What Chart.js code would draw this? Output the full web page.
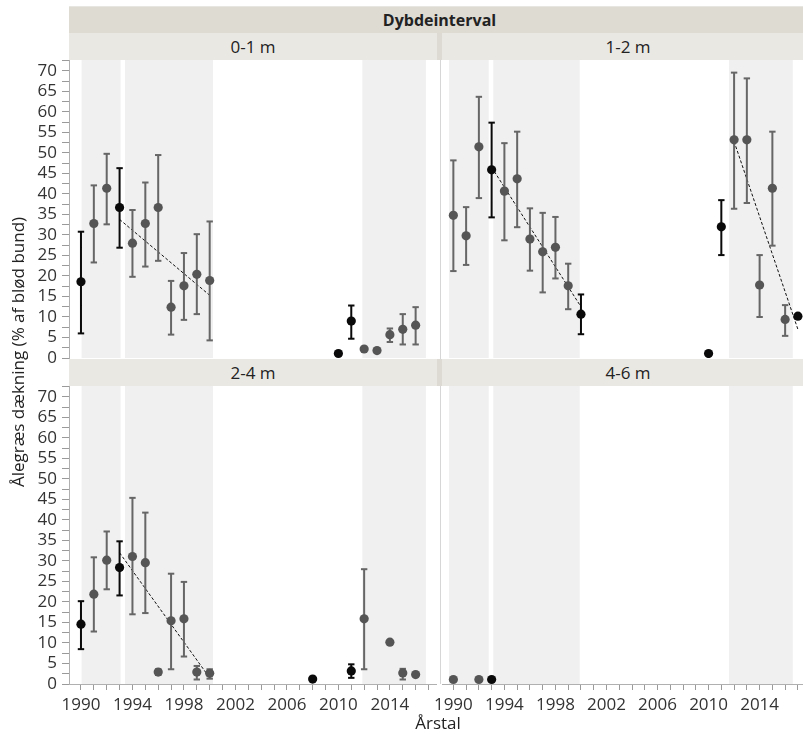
<!DOCTYPE html>
<html><head><meta charset="utf-8">
<script src="https://cdn.jsdelivr.net/npm/chart.js@4.4.1/dist/chart.umd.min.js"></script>
<style>
html,body{margin:0;padding:0;background:#fff;overflow:hidden;width:803px;height:735px;}
#wrap{position:relative;width:803px;height:735px;overflow:hidden;font-family:"Open Sans",sans-serif;color:#222;}
.lbl{position:absolute;display:flex;align-items:center;justify-content:center;box-sizing:border-box;white-space:nowrap;z-index:2;}
.hdr{left:69px;top:6px;width:741px;height:27px;background:#dedbd3;font-weight:bold;font-size:16px;border-top:1px solid #e8e6e0;}
.strip{height:27px;background:#eae8e2;font-size:17px;}
.gap{position:absolute;width:5px;background:#dcdad3;z-index:2;}
canvas{position:absolute;z-index:1;}
.vline{position:absolute;left:440px;top:60px;width:1px;height:624px;background:#d6d6d6;z-index:0;}
</style></head>
<body><div id="wrap">
<div class="vline"></div>
<canvas id="c01" width="437" height="310" style="left:0;top:60px"></canvas>
<canvas id="c12" width="361" height="298" style="left:442px;top:60px"></canvas>
<canvas id="c24" width="437" height="334" style="left:0;top:386px"></canvas>
<canvas id="c46" width="373" height="334" style="left:430px;top:386px"></canvas>
<div class="lbl hdr">Dybdeinterval</div>
<div class="lbl strip" style="left:69px;top:33px;width:368px;">0-1 m</div>
<div class="gap" style="left:437px;top:33px;height:27px;"></div>
<div class="lbl strip" style="left:442px;top:33px;width:372px;">1-2 m</div>
<div class="lbl strip" style="left:69px;top:359px;width:368px;">2-4 m</div>
<div class="gap" style="left:437px;top:359px;height:27px;"></div>
<div class="lbl strip" style="left:442px;top:359px;width:372px;">4-6 m</div>
<div class="lbl" style="left:-183px;top:341px;width:400px;height:22px;font-size:17px;transform:rotate(-90deg);">Ålegræs dækning (% af blød bund)</div>
<div class="lbl" style="left:388px;top:711px;width:100px;height:22px;font-size:17px;">Årstal</div>
</div>
<script>
// ---------- DATA ----------
// 0-1 m
const years_01 = [1990,1991,1992,1993,1994,1995,1996,1997,1998,1999,2000,2010,2011,2012,2013,2014,2015,2016];
const mean_01  = [18.6,32.8,41.4,36.7,28.0,32.8,36.7,12.4,17.6,20.4,18.9,1.1,9.0,2.2,1.8,5.7,7.0,8.0];
const low_01   = [6.0,23.3,32.6,26.9,19.8,22.3,23.7,5.7,9.3,10.7,4.3,null,4.7,null,null,3.9,3.3,3.3];
const high_01  = [30.8,42.1,49.8,46.3,36.1,42.8,49.5,18.8,25.6,30.2,33.3,null,12.8,null,null,7.2,10.7,12.4];
const dark_01  = [1990,1993,2010,2011];
const trendX_01 = [[1993,2000]];
const trendY_01 = [[33.8,15.3]];
// 1-2 m
const years_12 = [1990,1991,1992,1993,1994,1995,1996,1997,1998,1999,2000,2010,2011,2012,2013,2014,2015,2016,2017];
const mean_12  = [34.8,29.8,51.5,45.9,40.7,43.7,29.0,25.9,27.0,17.6,10.7,1.1,32.0,53.2,53.2,17.8,41.4,9.4,10.2];
const low_12   = [21.2,22.7,39.0,34.3,28.7,31.9,21.3,16.0,19.4,11.9,5.8,null,25.1,36.4,37.8,10.0,27.4,5.4,null];
const high_12  = [48.2,36.8,63.7,57.4,52.4,55.2,36.5,35.4,34.4,23.0,15.5,null,38.5,69.6,68.2,25.1,55.2,12.9,null];
const dark_12  = [1993,2000,2010,2011,2017];
const trendX_12 = [[1993,2000],[2012,2017]];
const trendY_12 = [[46.5,12.5],[52.8,7.0]];
// 2-4 m
const years_24 = [1990,1991,1992,1993,1994,1995,1996,1997,1998,1999,2000,2008,2011,2012,2014,2015,2016];
const mean_24  = [14.6,21.9,30.2,28.4,31.1,29.6,2.9,15.4,15.9,2.9,2.6,1.2,3.2,15.9,10.2,2.7,2.3];
const low_24   = [8.5,12.8,23.1,21.6,17.0,17.3,2.2,3.6,6.7,1.1,1.3,null,1.5,3.6,null,1.1,null];
const high_24  = [20.2,30.9,37.2,34.8,45.4,41.8,3.6,26.9,24.9,4.4,3.6,null,4.8,28.0,null,3.7,null];
const dark_24  = [1990,1993,2008,2011];
const trendX_24 = [[1993,2000]];
const trendY_24 = [[32.0,1.5]];
// 4-6 m
const years_46 = [1990,1992,1993];
const mean_46  = [1.1,1.1,1.1];
const low_46   = [null,null,null];
const high_46  = [null,null,null];
const dark_46  = [1993];
const trendX_46 = [];
const trendY_46 = [];
// shaded periods (years)
const bandsLeft  = [[1990.05,1993.08],[1993.42,2000.26],[2011.86,2016.8]];
const bandsRight = [[1989.66,1992.77],[1993.13,1999.9],[2011.6,2016.6]];
// axes
const yTickLabels = [0,5,10,15,20,25,30,35,40,45,50,55,60,65,70];
const xTickYears  = [1990,1991,1992,1993,1994,1995,1996,1997,1998,1999,2000,2001,2002,2003,2004,2005,2006,2007,2008,2009,2010,2011,2012,2013,2014,2015,2016,2017];
const xTickLabels = [1990,1994,1998,2002,2006,2010,2014];

// ---------- STYLE ----------
const FONT = '"Open Sans", sans-serif';
const GRAY_PT = '#555555', GRAY_BAR = '#666666', DARK = '#0a0a0a';
const Y_MAX = 72.68;

const bandPlugin = {
  id: 'bands',
  beforeDatasetsDraw(chart, args, opts) {
    const {ctx, chartArea, scales} = chart;
    const x = scales.x;
    ctx.save();
    ctx.fillStyle = '#f0f0f0';
    (opts.list || []).forEach(b => {
      const x0 = x.getPixelForValue(b[0]), x1 = x.getPixelForValue(b[1]);
      ctx.fillRect(x0, chartArea.top, x1 - x0, chartArea.bottom - chartArea.top);
    });
    ctx.restore();
  }
};

function buildDatasets(years, mean, low, high, dark, tX, tY) {
  const isDark = years.map(y => dark.includes(y));
  const ds = [];
  ds.push({ type:'scatter', order:0, data: years.map((yr,i)=>({x:yr,y:mean[i]})),
    pointRadius:4.6, pointBorderWidth:0,
    pointBackgroundColor: isDark.map(d => d ? DARK : GRAY_PT), clip:false });
  const capData = [], capCol = [];
  years.forEach((yr,i)=>{ if (low[i]!=null) { capData.push({x:yr,y:low[i]},{x:yr,y:high[i]}); const c = isDark[i]?DARK:GRAY_BAR; capCol.push(c,c);} });
  ds.push({ type:'scatter', order:1, data: capData, pointStyle:'line', pointRadius:3.2,
    pointBorderWidth:2, pointBorderColor: capCol, pointBackgroundColor: capCol, clip:false });
  [false,true].forEach(flag=>{
    const d = [];
    years.forEach((yr,i)=>{ if (low[i]!=null && isDark[i]===flag) d.push({x:yr,y:low[i]},{x:yr,y:high[i]},{x:yr,y:null}); });
    ds.push({ type:'line', order:2, data:d, borderColor: flag?DARK:GRAY_BAR, borderWidth:2,
      pointRadius:0, spanGaps:false, clip:false });
  });
  tX.forEach((xs,k)=>{
    ds.push({ type:'line', order:3, data: xs.map((xv,j)=>({x:xv,y:tY[k][j]})), borderColor:'#111',
      borderWidth:1, borderDash:[3,2], pointRadius:0, clip:false });
  });
  return ds;
}

function makeChart(id, d, o) {
  new Chart(document.getElementById(id), {
    type: 'scatter',
    data: { datasets: buildDatasets(d[0],d[1],d[2],d[3],d[4],d[5],d[6]) },
    options: {
      responsive:false, animation:false, devicePixelRatio:1,
      layout:{ autoPadding:false, padding:{ top:0, left:o.padLeft||0, right:0, bottom:o.padBottom||0 } },
      plugins:{ legend:{display:false}, tooltip:{enabled:false}, bands:{ list:o.bands } },
      scales:{
        x:{ type:'linear', min:o.xmin, max:o.xmax, display:o.showX, position:'bottom',
          afterBuildTicks: s => { s.ticks = xTickYears.map(v=>({value:v})); },
          afterFit: s => { s.height = o.showX ? 36 : 0; s.paddingLeft = 0; s.paddingRight = 0; },
          ticks:{ autoSkip:false, maxRotation:0, minRotation:0, padding:5, color:'#333',
            font:{family:FONT,size:17}, callback: v => xTickLabels.includes(v) ? String(v) : '' },
          grid:{ drawOnChartArea:false, drawTicks:true, tickLength:6, tickColor:'#9a9a9a' },
          border:{ display:true, color:'#b0b0b0', width:1 } },
        y:{ type:'linear', min:0, max:Y_MAX, display:o.showY, position:'left',
          afterBuildTicks: s => { const t=[]; yTickLabels.forEach(v=>{ t.push({value:v}); if (v+2.5<=Y_MAX) t.push({value:v+2.5}); }); s.ticks = t; },
          afterFit: s => { s.width = o.showY ? 69 : 0; s.paddingTop = 0; s.paddingBottom = 0; },
          ticks:{ autoSkip:false, padding:5, color:'#333', font:{family:FONT,size:17},
            callback: v => yTickLabels.includes(v) ? String(v) : '' },
          grid:{ drawOnChartArea:false, drawTicks:true, tickLength:7, tickColor:'#9a9a9a' },
          border:{ display:true, color:'#b0b0b0', width:1 } }
      }
    },
    plugins:[bandPlugin]
  });
}

const L = {xmin:1989.07, xmax:2017.66};
const R = {xmin:1989.11, xmax:2017.40};
makeChart('c01', [years_01,mean_01,low_01,high_01,dark_01,trendX_01,trendY_01], {...L, showX:false, showY:true, padBottom:12, bands:bandsLeft});
makeChart('c12', [years_12,mean_12,low_12,high_12,dark_12,trendX_12,trendY_12], {...R, showX:false, showY:false, bands:bandsRight});
makeChart('c24', [years_24,mean_24,low_24,high_24,dark_24,trendX_24,trendY_24], {...L, showX:true, showY:true, bands:bandsLeft});
makeChart('c46', [years_46,mean_46,low_46,high_46,dark_46,trendX_46,trendY_46], {...R, showX:true, showY:false, padLeft:12, bands:bandsRight});
</script>
</body></html>
